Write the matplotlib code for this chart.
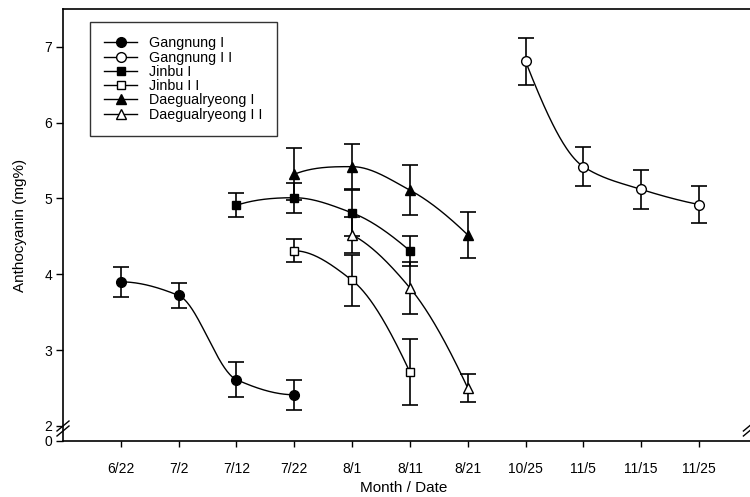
import numpy as np
import matplotlib
matplotlib.use("Agg")
import matplotlib.pyplot as plt
from matplotlib.lines import Line2D

plt.rcParams['font.family'] = ['Liberation Sans', 'DejaVu Sans']

dates = ['6/22', '7/2', '7/12', '7/22', '8/1', '8/11', '8/21',
         '10/25', '11/5', '11/15', '11/25']

gangnung1_dates = ['6/22', '7/2', '7/12', '7/22']
gangnung1_vals = [3.90, 3.72, 2.61, 2.41]
gangnung1_err = [0.20, 0.17, 0.23, 0.20]

gangnung2_dates = ['10/25', '11/5', '11/15', '11/25']
gangnung2_vals = [6.81, 5.42, 5.12, 4.92]
gangnung2_err = [0.31, 0.26, 0.26, 0.24]

jinbu1_dates = ['7/12', '7/22', '8/1', '8/11']
jinbu1_vals = [4.91, 5.01, 4.81, 4.31]
jinbu1_err = [0.16, 0.20, 0.30, 0.20]

jinbu2_dates = ['7/22', '8/1', '8/11']
jinbu2_vals = [4.31, 3.92, 2.71]
jinbu2_err = [0.15, 0.34, 0.43]

daeg1_dates = ['7/22', '8/1', '8/11', '8/21']
daeg1_vals = [5.32, 5.42, 5.11, 4.52]
daeg1_err = [0.34, 0.30, 0.33, 0.30]

daeg2_dates = ['8/1', '8/11', '8/21']
daeg2_vals = [4.52, 3.82, 2.50]
daeg2_err = [0.24, 0.34, 0.19]

labels = ['Gangnung I', 'Gangnung I I', 'Jinbu I', 'Jinbu I I',
          'Daegualryeong I', 'Daegualryeong I I']

ytick_vals = [1.8, 2, 3, 4, 5, 6, 7]
ytick_labels = ['0', '2', '3', '4', '5', '6', '7']


def pchip(x, y, xs):
    x = np.asarray(x, float)
    y = np.asarray(y, float)
    n = len(x)
    h = np.diff(x)
    d = np.diff(y) / h
    m = np.zeros(n)
    for k in range(1, n - 1):
        if d[k - 1] * d[k] <= 0:
            m[k] = 0.0
        else:
            w1 = 2 * h[k] + h[k - 1]
            w2 = h[k] + 2 * h[k - 1]
            m[k] = (w1 + w2) / (w1 / d[k - 1] + w2 / d[k])

    def endpoint(h0, h1, d0, d1):
        mm = ((2 * h0 + h1) * d0 - h0 * d1) / (h0 + h1)
        if np.sign(mm) != np.sign(d0):
            mm = 0.0
        elif np.sign(d0) != np.sign(d1) and abs(mm) > abs(3 * d0):
            mm = 3 * d0
        return mm

    m[0] = endpoint(h[0], h[1], d[0], d[1])
    m[-1] = endpoint(h[-1], h[-2], d[-1], d[-2])
    out = np.empty_like(xs)
    for i, xv in enumerate(xs):
        k = min(max(np.searchsorted(x, xv) - 1, 0), n - 2)
        t = (xv - x[k]) / h[k]
        h00 = 2 * t**3 - 3 * t**2 + 1
        h10 = t**3 - 2 * t**2 + t
        h01 = -2 * t**3 + 3 * t**2
        h11 = t**3 - t**2
        out[i] = h00 * y[k] + h10 * h[k] * m[k] + h01 * y[k + 1] + h11 * h[k] * m[k + 1]
    return out


W, H = 750, 497
fig = plt.figure(figsize=(W / 100, H / 100), dpi=100)
ax_l, ax_r, ax_b, ax_t = 63, 752, 441, 9
ax = fig.add_axes([ax_l / W, (H - ax_b) / H, (ax_r - ax_l) / W, (ax_b - ax_t) / H])

series = [
    (gangnung1_dates, gangnung1_vals, gangnung1_err, 'o', 'black'),
    (gangnung2_dates, gangnung2_vals, gangnung2_err, 'o', 'white'),
    (jinbu1_dates, jinbu1_vals, jinbu1_err, 's', 'black'),
    (jinbu2_dates, jinbu2_vals, jinbu2_err, 's', 'white'),
    (daeg1_dates, daeg1_vals, daeg1_err, '^', 'black'),
    (daeg2_dates, daeg2_vals, daeg2_err, '^', 'white'),
]

msize = {'o': 7, 's': 6.2, '^': 7}
handles = []
for (dts, vals, errs, mk, fc), lab in zip(series, labels):
    idx = np.array([dates.index(d) for d in dts], float)
    xs = np.linspace(idx[0], idx[-1], 200)
    ax.plot(xs, pchip(idx, vals, xs), color='black', lw=1.0, zorder=2)
    ax.errorbar(idx, vals, yerr=errs, fmt='none', ecolor='black',
                elinewidth=1.2, capsize=5.5, capthick=1.2, zorder=3)
    ax.plot(idx, vals, ls='none', marker=mk, ms=msize[mk], mfc=fc,
            mec='black', mew=1.0, zorder=4)
    handles.append(Line2D([0], [0], color='black', lw=1.0, marker=mk,
                          ms=msize[mk], mfc=fc, mec='black', mew=1.0))

ax.set_xlim(-1, (ax_r - 121) / 57.8)
ax.set_ylim(1.8, 7.5)
ax.set_xticks(range(len(dates)))
ax.set_xticklabels(dates, fontsize=10)
ax.set_yticks(ytick_vals)
ax.set_yticklabels(ytick_labels, fontsize=10)
ax.tick_params(axis='x', direction='out', length=4, width=1, pad=11)
ax.tick_params(axis='y', direction='out', length=5, width=1, pad=3)
fig.text((ax_l + ax_r) / 2 / W - 0.005, 1 - 488 / H, 'Month / Date', fontsize=11,
         ha='center', va='center')
ax.set_ylabel('Anthocyanin (mg%)', fontsize=11, labelpad=12)
for s in ['left', 'bottom', 'top']:
    ax.spines[s].set_linewidth(1.2)
ax.spines['right'].set_visible(False)

leg = ax.legend(handles, labels, loc='upper left',
                bbox_to_anchor=((90 - ax_l) / (ax_r - ax_l), (ax_b - 22) / (ax_b - ax_t)),
                fontsize=10.3, frameon=True, fancybox=False, shadow=False,
                handlelength=2.3, handletextpad=0.85, labelspacing=0.02,
                borderpad=1.0, borderaxespad=0.0)
leg.get_frame().set_edgecolor('black')
leg.get_frame().set_linewidth(1.0)

# axis break marks
def brk(x0, y0, s=1.0):
    for dy in (0, 5):
        fig.add_artist(Line2D([(x0 - 6 * s) / W, (x0 + 6 * s) / W],
                              [(H - (y0 + dy + 5 * s)) / H, (H - (y0 + dy - 5 * s)) / H],
                              color='black', lw=1.0))

brk(63, 426)
brk(747, 428, 0.6)

fig.savefig('out.png', dpi=100)
